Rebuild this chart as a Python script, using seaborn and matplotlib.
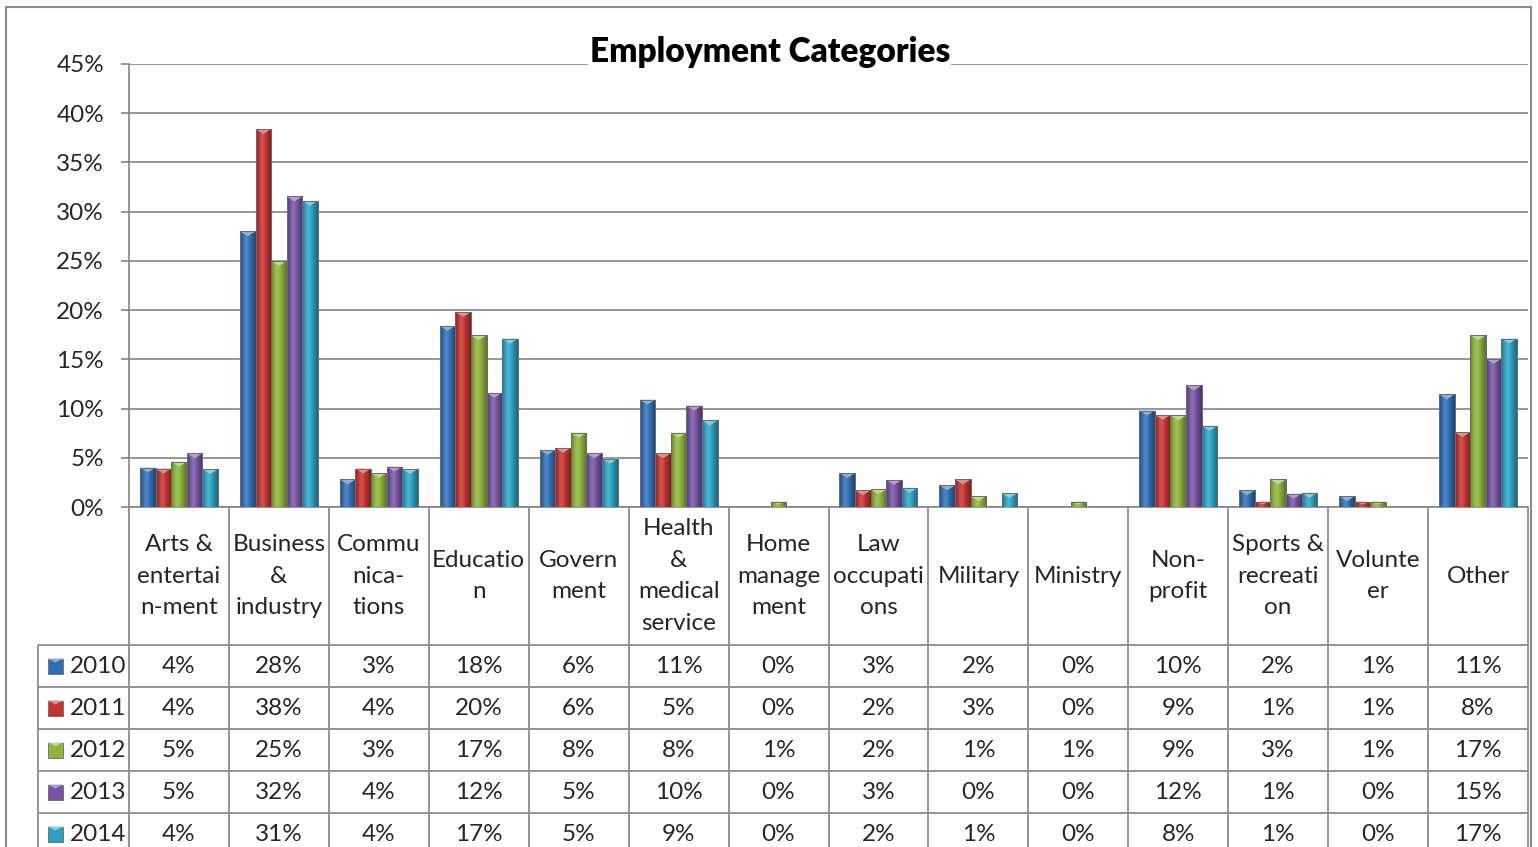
import numpy as np
import pandas as pd
import matplotlib
matplotlib.use("Agg")
import matplotlib.pyplot as plt
import seaborn as sns
from matplotlib.colors import to_rgb
from matplotlib.patches import Rectangle, Polygon

# ---- data -------------------------------------------------------------
categories = ["Arts &\nentertai\nn-ment", "Business\n&\nindustry", "Commu\nnica-\ntions",
              "Educatio\nn", "Govern\nment", "Health\n&\nmedical\nservice",
              "Home\nmanage\nment", "Law\noccupati\nons", "Military", "Ministry",
              "Non-\nprofit", "Sports &\nrecreati\non", "Volunte\ner", "Other"]
years = ["2010", "2011", "2012", "2013", "2014"]

pct_2010 = [4.0, 28.0, 2.8, 18.4, 5.8, 10.9, 0.0, 3.45, 2.2, 0.0, 9.8, 1.7, 1.1, 11.45]
pct_2011 = [3.9, 38.4, 3.9, 19.8, 6.0, 5.45, 0.0, 1.7, 2.8, 0.0, 9.35, 0.55, 0.55, 7.6]
pct_2012 = [4.6, 25.0, 3.45, 17.45, 7.55, 7.55, 0.55, 1.8, 1.1, 0.55, 9.3, 2.8, 0.55, 17.45]
pct_2013 = [5.45, 31.55, 4.1, 11.6, 5.45, 10.3, 0.0, 2.75, 0.0, 0.0, 12.35, 1.35, 0.0, 15.05]
pct_2014 = [3.85, 31.1, 3.85, 17.1, 4.9, 8.8, 0.0, 1.95, 1.4, 0.0, 8.25, 1.45, 0.0, 17.1]
series = [pct_2010, pct_2011, pct_2012, pct_2013, pct_2014]

colors = ["#2F6EB5", "#C4332F", "#8DB43A", "#7653A3", "#2BA2C3"]
y_ticks = [0, 5, 10, 15, 20, 25, 30, 35, 40, 45]

df = pd.DataFrame({
    "category": np.tile(categories, len(years)),
    "year": np.repeat(years, len(categories)),
    "pct": np.concatenate(series),
})

# ---- figure -----------------------------------------------------------
W, H = 1538, 847
FS = 17.5
sns.set_style("white")
plt.rcParams["font.family"] = ["Lato", "DejaVu Sans"]
fig = plt.figure(figsize=(W / 100, H / 100), dpi=100)
fig.patch.set_facecolor("white")

grid_c = "#808080"
LW = 1.15
left_px, right_px, top_px, base_px = 129, 1528, 64, 507
ax = fig.add_axes([left_px / W, 1 - base_px / H,
                   (right_px - left_px) / W, (base_px - top_px) / H])

sns.barplot(data=df, x="category", y="pct", hue="year", order=categories,
            hue_order=years, palette=colors, width=0.78, saturation=1,
            edgecolor="#5a5a5a", linewidth=0.6, legend=False, ax=ax, zorder=3)


def shade(c, f):
    c = np.array(to_rgb(c))
    if f >= 1:
        return tuple(c + (1 - c) * (f - 1))
    return tuple(c * f)


# bevelled look: horizontal gradient plus a light cap on each bar
profile = np.array([0.78, 0.95, 1.12, 1.18, 1.05, 0.92, 0.8, 0.68])
for cont, col in zip(ax.containers, colors):
    for bar in cont:
        h = bar.get_height()
        if h <= 0:
            bar.set_visible(False)
            continue
        x0, w = bar.get_x(), bar.get_width()
        grad = np.array([[shade(col, f) for f in profile]])
        im = ax.imshow(grad, extent=[x0, x0 + w, 0, h], aspect="auto",
                       interpolation="bicubic", zorder=3.5, origin="lower")
        im.set_clip_path(bar)
        cap = min(0.5, h * 0.5)
        ax.add_patch(Polygon([(x0, h), (x0 + w, h), (x0 + w / 2, h - cap)],
                             closed=True, facecolor=shade(col, 1.45),
                             edgecolor="none", zorder=3.6))
        ax.add_patch(Rectangle((x0, 0), w, h, fill=False, edgecolor="#6b6b6b",
                               linewidth=0.7, zorder=3.7))

ax.set_xlim(-0.5, len(categories) - 0.5)
ax.set_ylim(0, 45)
ax.set_yticks(y_ticks)
ax.set_yticklabels([f"{t}%" for t in y_ticks], fontsize=FS)
ax.set_xticks([])
ax.set_xlabel("")
ax.set_ylabel("")
ax.yaxis.grid(True, color=grid_c, linewidth=LW)
ax.set_axisbelow(True)
for s in ["top", "right"]:
    ax.spines[s].set_visible(False)
for s in ["left", "bottom"]:
    ax.spines[s].set_color(grid_c)
    ax.spines[s].set_linewidth(LW)
ax.tick_params(axis="y", length=6, width=LW, color=grid_c, pad=12, left=True)

ax.text(0.458, 1.027, "Employment Categories", transform=ax.transAxes,
        ha="center", va="center", fontsize=24, fontweight="heavy", color="black",
        bbox=dict(facecolor="white", edgecolor="none", pad=1), zorder=5)

# ---- data table under the axis -----------------------------------------
unit = (right_px - left_px) / len(categories)
tab_left_px = 38
tax = fig.add_axes([tab_left_px / W, 0, (right_px - tab_left_px) / W, (H - base_px) / H])
x_min = -0.5 - (left_px - tab_left_px) / unit
tax.set_xlim(x_min, len(categories) - 0.5)
tax.set_ylim(H, base_px)
tax.axis("off")

line_kw = dict(color="#8c8c8c", linewidth=LW + 0.15, clip_on=False, solid_capstyle="butt")
row_lines = [645, 687, 729, 771, 813, 855]
for i in range(len(categories) + 1):
    tax.plot([i - 0.5, i - 0.5], [base_px, H + 10], **line_kw)
tax.plot([x_min, x_min], [row_lines[0], H + 10], **line_kw)
for yl in row_lines:
    tax.plot([x_min, len(categories) - 0.5], [yl, yl], **line_kw)

head_y = (base_px + row_lines[0]) / 2
for i, cat in enumerate(categories):
    tax.text(i, head_y, cat, ha="center", va="center", fontsize=FS,
             linespacing=1.62, multialignment="center")

key_w = 15 / unit
for r, (yr, col, vals) in enumerate(zip(years, colors, series)):
    yc = (row_lines[r] + row_lines[r + 1]) / 2
    kx = x_min + 10 / unit
    tax.add_patch(Rectangle((kx, yc - 7.5), key_w, 15, facecolor=col,
                            edgecolor="#6b6b6b", linewidth=0.6, clip_on=False))
    tax.add_patch(Polygon([(kx, yc - 7.5), (kx + key_w, yc - 7.5), (kx + key_w / 2, yc - 3.5)],
                          facecolor=shade(col, 1.45), edgecolor="none", clip_on=False))
    tax.text(x_min + 32 / unit, yc, yr, ha="left", va="center", fontsize=FS)
    for i, v in enumerate(vals):
        tax.text(i, yc, f"{v:.0f}%", ha="center", va="center", fontsize=FS)

# outer chart border
fig.add_artist(Rectangle((6 / W, -0.02), (1531 - 6) / W, (H - 7) / H + 0.02,
                         transform=fig.transFigure, fill=False,
                         edgecolor="#8a8a8a", linewidth=1.5))

fig.savefig("out.png", dpi=100, facecolor="white")
